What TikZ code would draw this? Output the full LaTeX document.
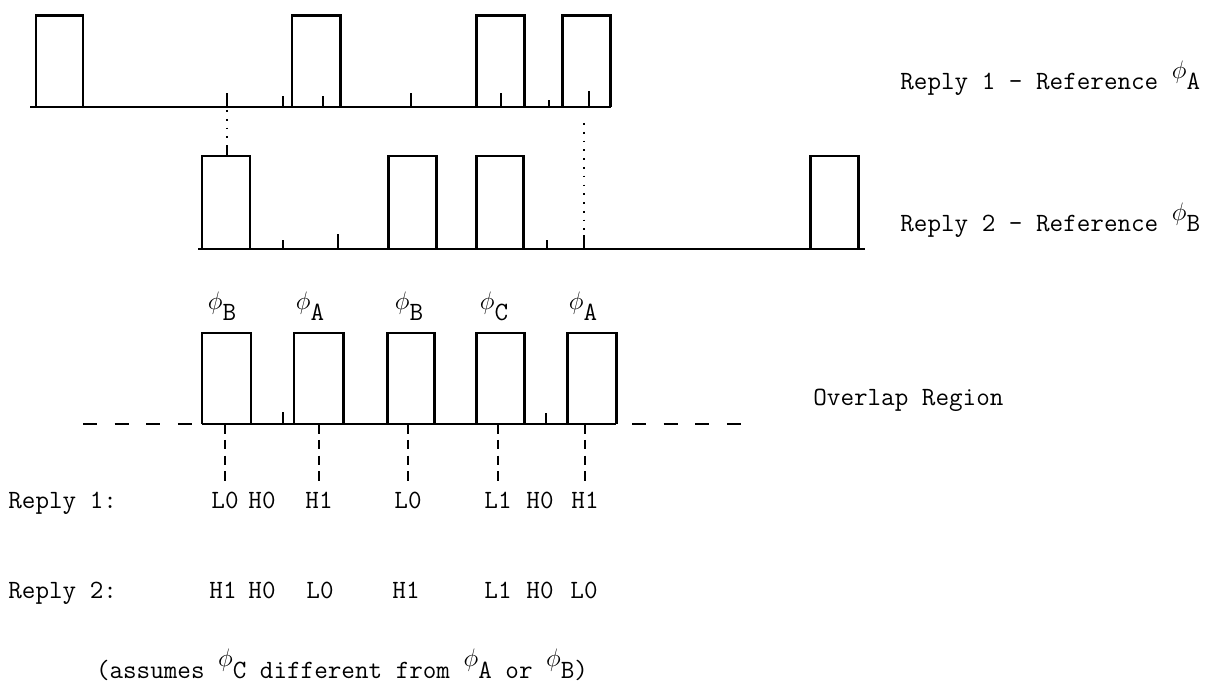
\documentclass[tikz,border=0pt]{standalone}
\usepackage{fontspec}
\usepackage{tikz}
\usetikzlibrary{calc}

\newcommand{\ph}[1]{\raisebox{0.45em}{$\phi$}#1}

\tikzset{
	pulse/.style={line width=1.7pt},
	tick/.style={line width=1.1pt},
	txt/.style={font=\ttfamily\fontsize{15}{18}\selectfont, inner sep=0pt, anchor=base},
	guide/.style={line width=0.6pt, dash pattern=on 5.5pt off 3.5pt},
	dotline/.style={line width=0.6pt, dash pattern=on 1pt off 4pt},
	longdash/.style={line width=1.2pt, dash pattern=on 8pt off 10pt}
}

\begin{document}
\begin{tikzpicture}[x=0.2mm,y=-0.2mm]
	\useasboundingbox (0,0) rectangle (1229,700);

	\draw[line width=0.9pt] (30,107) -- (611,107);
	\draw[pulse] (36,107) |- (83,16) -- (83,107);
	\draw[pulse] (292,107) |- (340,16) -- (340,107);
	\draw[pulse] (476,107) |- (524,16) -- (524,107);
	\draw[pulse] (562,107) |- (610,16) -- (610,107);
	\draw[tick] (227,107) -- (227,93);
	\draw[tick] (283,107) -- (283,96);
	\draw[tick] (323,107) -- (323,96);
	\draw[tick] (411,107) -- (411,93);
	\draw[tick] (501,107) -- (501,93);
	\draw[tick] (549,107) -- (549,100);
	\draw[tick] (589,107) -- (589,91);
	\node[txt, anchor=base west] (ref1) at (900,90) {Reply 1 - Reference \ph{A}};

	\coordinate (d1) at (227,110);
	\coordinate (d2) at (227,147);
	\coordinate (d3) at (584,123);
	\coordinate (d4) at (584,235);
	\draw[dotline] (d1) -- (d2);
	\draw[dotline] (d3) -- (d4);

	\draw[line width=1.6pt] (198,249) -- (865,249);
	\draw[pulse] (202,249) |- (250,156) -- (250,249);
	\draw[pulse] (388,249) |- (436,156) -- (436,249);
	\draw[pulse] (476,249) |- (523,156) -- (523,249);
	\draw[pulse] (810,249) |- (858,156) -- (858,249);
	\draw[tick] (d2) -- (227,156);
	\draw[tick] (283,249) -- (283,240);
	\draw[tick] (338,249) -- (338,234);
	\draw[tick] (547,249) -- (547,240);
	\draw[tick] (584,249) -- (d4);
	\node[txt, anchor=base west] (ref2) at (900,232) {Reply 2 - Reference \ph{B}};

	\node[txt] (pb1) at (222,321) {\ph{B}};
	\node[txt] (pa1) at (310,321) {\ph{A}};
	\node[txt] (pb2) at (409,321) {\ph{B}};
	\node[txt] (pc1) at (494,321) {\ph{C}};
	\node[txt] (pa2) at (583,321) {\ph{A}};

	\coordinate (base3) at (0,424);
	\draw[longdash] (83,424) -- (196,424);
	\draw[longdash] (632,424) -- (750,424);
	\draw[line width=1.6pt] (202,424) -- (616,424);
	\draw[pulse] (202,424) |- (251,333) -- (251,424);
	\draw[pulse] (294,424) |- (343,333) -- (343,424);
	\draw[pulse] (387,424) |- (434,333) -- (434,424);
	\draw[pulse] (476,424) |- (524,333) -- (524,424);
	\draw[pulse] (567,424) |- (616,333) -- (616,424);
	\draw[tick] (283,424) -- (283,412);
	\draw[tick] (546,424) -- (546,413);
	\node[txt, anchor=base west] (ovl) at (813,405) {Overlap Region};

	\node[txt, anchor=base west] (rep1) at (8,508) {Reply 1:};
	\node[txt] (r1a) at (225,508) {L0};
	\node[txt] (r1b) at (262,508) {H0};
	\node[txt] (r1c) at (319,508) {H1};
	\node[txt] (r1d) at (408,508) {L0};
	\node[txt] (r1e) at (498,508) {L1};
	\node[txt] (r1f) at (540,508) {H0};
	\node[txt] (r1g) at (585,508) {H1};

	\draw[guide] (r1a |- base3) -- ([yshift=6pt]r1a.north);
	\draw[guide] (r1c |- base3) -- ([yshift=6pt]r1c.north);
	\draw[guide] (r1d |- base3) -- ([yshift=6pt]r1d.north);
	\draw[guide] (r1e |- base3) -- ([yshift=6pt]r1e.north);
	\draw[guide] (r1g |- base3) -- ([yshift=6pt]r1g.north);

	\node[txt, anchor=base west] (rep2) at (8,598) {Reply 2:};
	\node[txt] (r2a) at (223,598) {H1};
	\node[txt] (r2b) at (262,598) {H0};
	\node[txt] (r2c) at (320,598) {L0};
	\node[txt] (r2d) at (406,598) {H1};
	\node[txt] (r2e) at (498,598) {L1};
	\node[txt] (r2f) at (540,598) {H0};
	\node[txt] (r2g) at (584,598) {L0};

	\node[txt] (note) at (342,678) {(assumes \ph{C} different from \ph{A} or \ph{B})};
\end{tikzpicture}
\end{document}
